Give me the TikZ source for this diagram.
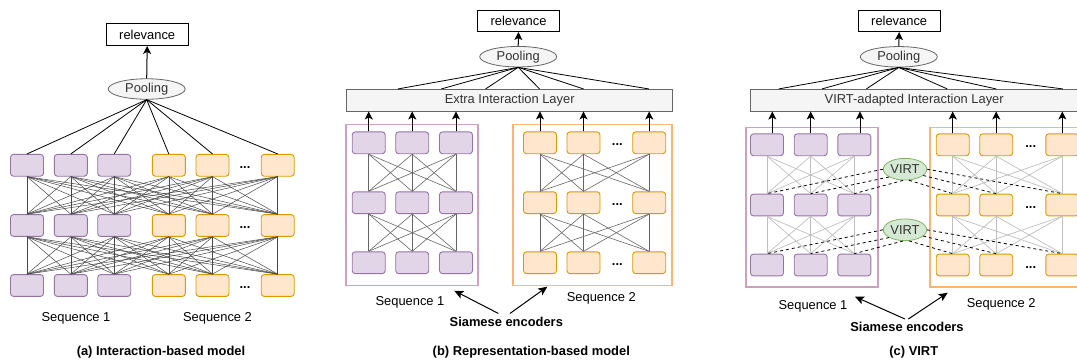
\documentclass[tikz,border=0pt]{standalone}
\usepackage{fontspec}
\setmainfont{Liberation Sans}
\usepackage{tikz}
\usetikzlibrary{arrows.meta, positioning, calc, shapes.geometric}
\definecolor{purpFill}{HTML}{E1D5E7}
\definecolor{purpLine}{HTML}{9673A6}
\definecolor{oranFill}{HTML}{FFE6CC}
\definecolor{oranLine}{HTML}{D79B00}
\definecolor{greyFill}{HTML}{F5F5F5}
\definecolor{greyLine}{HTML}{666666}
\definecolor{greyText}{HTML}{333333}
\definecolor{virtFill}{HTML}{D5E8D4}
\definecolor{virtLine}{HTML}{82B366}
\definecolor{boxPurp}{HTML}{CDA2BE}
\definecolor{boxOran}{HTML}{FFB570}
\tikzset{
	tokP/.style = {draw=purpLine, fill=purpFill, rounded corners=3pt, line width=0.9pt, minimum width=33pt, minimum height=21.8pt, inner sep=0pt},
	tokO/.style = {draw=oranLine, fill=oranFill, rounded corners=3pt, line width=0.9pt, minimum width=33pt, minimum height=21.8pt, inner sep=0pt},
	poolE/.style = {ellipse, draw=greyLine, fill=greyFill, text=greyText, line width=0.8pt, minimum width=77pt, minimum height=20.5pt, inner sep=0pt},
	relBox/.style = {draw=black, line width=1pt, minimum width=82pt, minimum height=21.5pt, inner sep=0pt},
	layerBox/.style = {draw=greyLine, fill=greyFill, text=greyText, line width=0.8pt, minimum height=21.7pt, inner sep=0pt},
	virtE/.style = {ellipse, draw=virtLine, fill=virtFill, text=greyText, line width=0.8pt, minimum width=43.4pt, minimum height=21.7pt, inner sep=0pt},
	seqBox/.style = {line width=1.6pt, inner sep=0pt},
	dotsTxt/.style = {anchor=base, inner sep=0pt, font=\fontsize{12.9}{15}\selectfont\bfseries},
	capTxt/.style = {font=\fontsize{12.9}{15}\selectfont\bfseries},
	linkA/.style = {draw=black!72, line width=0.5pt},
	linkB/.style = {draw=black!60, line width=0.6pt},
	linkC/.style = {draw=black!25, line width=0.7pt},
	virtDash/.style = {draw=black, line width=0.8pt, dash pattern=on 3pt off 3pt},
	upArrow/.style = {line width=1pt, -{Stealth[length=8pt, width=8pt, inset=2pt]}},
	siamArrow/.style = {line width=1pt, -{Stealth[length=9pt, width=8pt, inset=2pt]}}
}
\begin{document}
\begin{tikzpicture}[x=1pt, y=-1pt]
	\useasboundingbox (0,0) rectangle (1077,360);
	\tikzstyle{every node}=[font=\fontsize{12.9}{15}\selectfont]
	
	% (a) Interaction-based model
	\foreach \r/\py in {1/165.3, 2/225.5, 3/285.5}{
		\foreach \c/\px/\sty in {1/27/tokP, 2/70.8/tokP, 3/114.2/tokP, 4/168.8/tokO, 5/212.5/tokO, 6/277.7/tokO}
			\node [\sty] (a-\r-\c) at (\px,\py) {};
		\node [dotsTxt] (aDots\r) at (245,\py+3) {...};
	}
	\foreach \r/\rn in {1/2, 2/3}
		\foreach \c in {1,...,6}
			\foreach \d in {1,...,6}
				\draw [linkA] (a-\r-\c.south) -- (a-\rn-\d.north);
	
	\node [poolE] (aPool) at (146.7,89) {Pooling};
	\node [relBox] (aRel) at (147.2,34.7) {relevance};
	\draw [upArrow] (aPool.north) -- (aRel.south);
	\foreach \c in {1,...,6}
		\draw [line width=0.8pt] (aPool.south) -- (a-1-\c.north);
	
	\node (aSeq1) at (76,318.3) {Sequence 1};
	\node (aSeq2) at (217.5,318.3) {Sequence 2};
	\node [capTxt] (aCap) at (161,351.7) {(a) Interaction-based model};
	
	% (b) Representation-based model
	\node [seqBox, draw=boxPurp, minimum width=132pt, minimum height=161pt] (bBoxP) at (411.7,204.8) {};
	\node [seqBox, draw=boxOran, minimum width=159pt, minimum height=161pt] (bBoxO) at (592.2,204.8) {};
	\foreach \r/\py in {1/142.8, 2/202.7, 3/262.7}{
		\foreach \c/\px/\sty in {1/368.7/tokP, 2/412.2/tokP, 3/456/tokP, 4/540/tokO, 5/583.5/tokO, 6/649.2/tokO}
			\node [\sty] (b-\r-\c) at (\px,\py) {};
		\node [dotsTxt] (bDots\r) at (617.3,\py+3) {...};
	}
	\foreach \r/\rn in {1/2, 2/3}
		\foreach \g in {0,3}
			\foreach \i in {1,2,3}
				\foreach \j in {1,2,3}{
					\pgfmathtruncatemacro{\ci}{\i+\g}
					\pgfmathtruncatemacro{\cj}{\j+\g}
					\draw [linkB] (b-\r-\ci.south) -- (b-\rn-\cj.north);
				}
	
	\node [layerBox, minimum width=326pt] (bLayer) at (509.7,100.2) {Extra Interaction Layer};
	\node [poolE] (bPool) at (518.2,56.7) {Pooling};
	\node [relBox] (bRel) at (518.5,20.8) {relevance};
	\draw [upArrow] (bPool.north) -- (bRel.south);
	\foreach \dx in {51.6, 95, 139.3, 193.3, 237.3, 302.6}
		\draw [line width=0.8pt] (bPool.south) -- ([xshift=\dx pt]bLayer.north west);
	\foreach \c in {1,...,6}
		\draw [upArrow] (b-1-\c.north) -- (b-1-\c.north |- bLayer.south);
	
	\node (bSeq1) at (410,302.7) {Sequence 1};
	\node (bSeq2) at (601.3,298.3) {Sequence 2};
	\node [capTxt] (bSiam) at (506.3,321.7) {Siamese encoders};
	\coordinate (bTipP) at (454.3,290.7);
	\coordinate (bTipO) at (547.3,286.7);
	\draw [siamArrow] ([xshift=-8pt]bSiam.north) -- (bTipP);
	\draw [siamArrow] ([xshift=3.7pt]bSiam.north) -- (bTipO);
	\node [capTxt] (bCap) at (531.3,351.7) {(b) Representation-based model};
	
	% (c) VIRT
	\node [seqBox, draw=boxPurp, minimum width=132pt, minimum height=159.4pt] (cBoxP) at (811.7,207) {};
	\node [seqBox, draw=boxOran, minimum width=180pt, minimum height=159.4pt] (cBoxO) at (1020,207) {};
	\foreach \r/\py in {1/144.8, 2/205, 3/265}{
		\foreach \c/\px/\sty in {1/767/tokP, 2/810.7/tokP, 3/854.3/tokP, 4/952.7/tokO, 5/996.2/tokO, 6/1062.3/tokO}
			\node [\sty] (c-\r-\c) at (\px,\py) {};
		\node [dotsTxt] (cDots\r) at (1030.7,\py+3) {...};
	}
	\foreach \r/\rn in {1/2, 2/3}
		\foreach \g in {0,3}
			\foreach \i in {1,2,3}
				\foreach \j in {1,2,3}{
					\pgfmathtruncatemacro{\ci}{\i+\g}
					\pgfmathtruncatemacro{\cj}{\j+\g}
					\draw [linkC] (c-\r-\ci.south) -- (c-\rn-\cj.north);
				}
	
	\node [virtE] (cVirt1) at (905,169.2) {VIRT};
	\node [virtE] (cVirt2) at (905,229.8) {VIRT};
	\foreach \c/\ang in {1/180, 2/206, 3/260, 4/290, 5/341, 6/0}{
		\draw [virtDash] (cVirt1.\ang) -- (c-2-\c.north);
		\draw [virtDash] (cVirt2.\ang) -- (c-3-\c.north);
	}
	
	\node [layerBox, minimum width=327pt] (cLayer) at (914.2,100.2) {VIRT-adapted Interaction Layer};
	\node [poolE] (cPool) at (898.8,56.8) {Pooling};
	\node [relBox] (cRel) at (899.2,20.8) {relevance};
	\draw [upArrow] (cPool.north) -- (cRel.south);
	\foreach \dx in {28.3, 71.6, 116, 197, 246, 312.6}
		\draw [line width=0.8pt] (cPool.south) -- ([xshift=\dx pt]cLayer.north west);
	\foreach \c/\dx in {1/5.3, 2/0, 3/5.7, 4/0, 5/0, 6/0}{
		\path ([xshift=\dx pt]c-1-\c.north) coordinate (cOut\c);
		\draw [upArrow] (cOut\c) -- (cOut\c |- cLayer.south);
	}
	
	\node (cSeq1) at (813,306.7) {Sequence 1};
	\node (cSeq2) at (1001.2,304.7) {Sequence 2};
	\node [capTxt] (cSiam) at (907,327.3) {Siamese encoders};
	\coordinate (cTipP) at (855,296.7);
	\coordinate (cTipO) at (947.7,292.7);
	\draw [siamArrow] ([xshift=-2pt]cSiam.north) -- (cTipP);
	\draw [siamArrow] ([xshift=1.3pt]cSiam.north) -- (cTipO);
	\node [capTxt] (cCap) at (913.8,351.7) {(c) VIRT};
	
\end{tikzpicture}
\end{document}
